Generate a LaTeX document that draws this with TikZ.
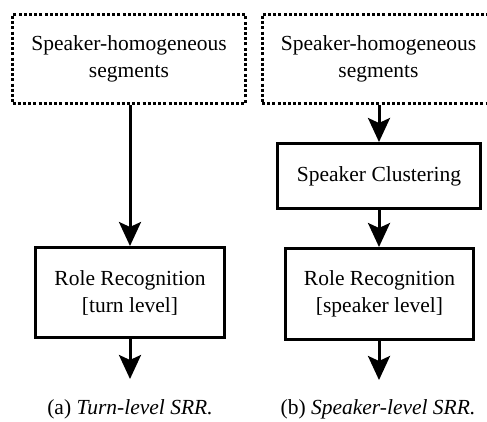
\documentclass[tikz,border=0pt]{standalone}
\usepackage{fontspec}
\setmainfont{Liberation Serif}
\usetikzlibrary{arrows.meta}
\begin{document}
\begin{tikzpicture}[x=1pt,y=1pt,
  every node/.style={font=\fontsize{21.5}{27}\selectfont, align=center, inner sep=0pt},
  dotbox/.style={draw, line width=3pt, dash pattern=on 3pt off 2.2pt},
  procbox/.style={draw, line width=3pt},
  flow/.style={line width=3pt, -{Stealth[length=24pt,width=22pt,inset=5pt]}}]
\useasboundingbox (0,0) rectangle (487,-421);
\node[dotbox, minimum width=233pt, minimum height=89pt] (segA) at (129,-59) {Speaker-homogeneous\\segments};
\node[dotbox, minimum width=233pt, minimum height=89pt] (segB) at (378.5,-59) {Speaker-homogeneous\\segments};
\node[procbox, minimum width=203pt, minimum height=65pt] (clus) at (379,-176) {Speaker Clustering};
\node[procbox, minimum width=189pt, minimum height=90pt] (roleA) at (130,-292.5) {Role Recognition\\{[turn level]}};
\node[procbox, minimum width=188pt, minimum height=91pt] (roleB) at (379.5,-294) {Role Recognition\\{[speaker level]}};
\coordinate (outA) at (130,-379);
\coordinate (outB) at (379,-380);
\draw[flow] (segA.south -| roleA.north) -- (roleA.north);
\draw[flow] (segB.south -| clus.north) -- (clus.north);
\draw[flow] (clus.south) -- (clus.south |- roleB.north);
\draw[flow] (roleA.south) -- (outA);
\draw[flow] (roleB.south -| outB) -- (outB);
\node[anchor=base] (capA) at (130,-414) {(a) \textit{Turn-level SRR.}};
\node[anchor=base] (capB) at (378,-414) {(b) \textit{Speaker-level SRR.}};
\end{tikzpicture}
\end{document}
